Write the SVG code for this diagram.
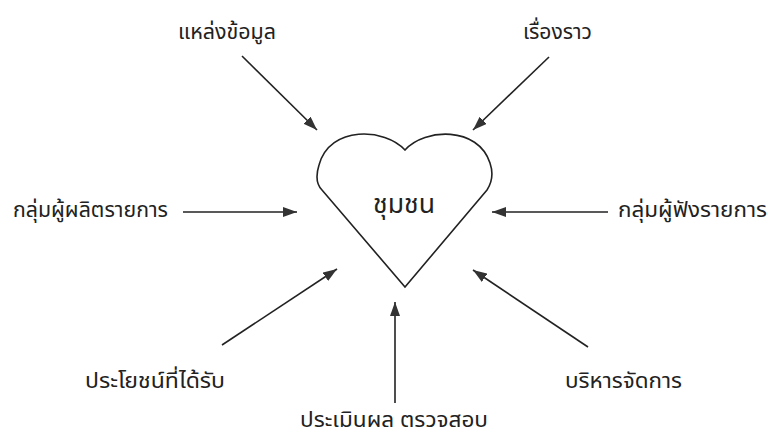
<svg xmlns="http://www.w3.org/2000/svg" width="768" height="436" viewBox="0 0 768 436">
<style>
.lbl{font-family:"Noto Sans Thai","Noto Sans","DejaVu Sans",sans-serif;font-size:21.5px;fill:#222;text-anchor:middle}
.ln{stroke:#222;stroke-width:1.6;fill:none;marker-end:url(#ah)}
</style>
<defs>
<marker id="ah" viewBox="0 0 14 10" refX="14" refY="5" markerWidth="14" markerHeight="10" markerUnits="userSpaceOnUse" orient="auto">
<path d="M0,0 L14,5 L0,10 Z" fill="#333"/>
</marker>
</defs>
<rect width="768" height="436" fill="#fff"/>
<g id="heart">
<path d="M405,150 C385,128 330,125 319,165 C315,178 318,186 322,190 L405,287 L487,190 C491,184 494,175 490,163 C478,126 425,128 405,150 Z" fill="#fff" stroke="#222" stroke-width="1.6"/>
<text class="lbl" x="404" y="213" style="font-size:27px" textLength="62" lengthAdjust="spacingAndGlyphs">ชุมชน</text>
</g>
<g id="n1"><text class="lbl" x="227" y="39" textLength="98" lengthAdjust="spacingAndGlyphs">แหล่งข้อมูล</text></g>
<g id="n2"><text class="lbl" x="557.5" y="39" textLength="69" lengthAdjust="spacingAndGlyphs">เรื่องราว</text></g>
<g id="n3"><text class="lbl" x="90.5" y="217" textLength="155" lengthAdjust="spacingAndGlyphs">กลุ่มผู้ผลิตรายการ</text></g>
<g id="n4"><text class="lbl" x="692.5" y="217" textLength="149" lengthAdjust="spacingAndGlyphs">กลุ่มผู้ฟังรายการ</text></g>
<g id="n5"><text class="lbl" x="155" y="388" textLength="140" lengthAdjust="spacingAndGlyphs">ประโยชน์ที่ได้รับ</text></g>
<g id="n6"><text class="lbl" x="394" y="427" textLength="188" lengthAdjust="spacingAndGlyphs">ประเมินผล ตรวจสอบ</text></g>
<g id="n7"><text class="lbl" x="623.5" y="388" textLength="117" lengthAdjust="spacingAndGlyphs">บริหารจัดการ</text></g>
<g id="connectors">
<line class="ln" x1="242" y1="56" x2="317" y2="130"/>
<line class="ln" x1="549" y1="57" x2="473" y2="130"/>
<line class="ln" x1="183" y1="212" x2="297" y2="212"/>
<line class="ln" x1="608" y1="212" x2="492" y2="212"/>
<line class="ln" x1="222" y1="345" x2="337" y2="269"/>
<line class="ln" x1="395" y1="403" x2="395" y2="302"/>
<line class="ln" x1="588" y1="347" x2="473" y2="270"/>
</g>
</svg>
